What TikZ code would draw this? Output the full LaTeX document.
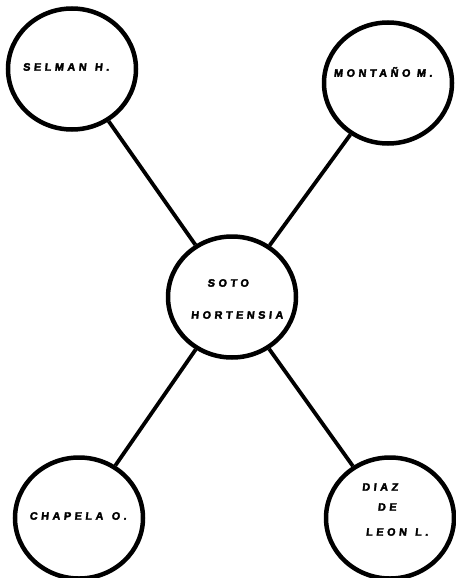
\documentclass[tikz,border=0pt]{standalone}
\usepackage{fontspec}
\newfontfamily\labfont{Liberation Sans Bold}[LetterSpace=33,FakeBold=3,FakeSlant=0.1]
\usetikzlibrary{shapes.geometric}
\begin{document}
\begin{tikzpicture}[x=1pt,y=-1pt,
  person/.style={ellipse,draw=black,line width=4.5pt,minimum width=128pt,minimum height=121pt,inner sep=0pt},
  lab/.style={font=\labfont\fontsize{10.8}{12}\selectfont,text=black,inner sep=0pt,anchor=center},
  link/.style={line width=3.8pt,draw=black}]
\fill[white] (0,0) rectangle (455,578);
\useasboundingbox (0,0) rectangle (455,578);
\node[person] (tl) at (72,69) {};
\node[person] (tr) at (388,83) {};
\node[person] (c) at (232,297) {};
\node[person] (bl) at (79,518) {};
\node[person] (br) at (390,518) {};
\node[lab] (tlt) at (66,67) {SELMAN\, H.};
\node[lab] (trt) at (383,72) {MONTAÑO M.};
\node[lab] (ct1) at (228,283) {SOTO};
\node[lab] (ct2) at (237,315) {HORTENSIA};
\node[lab] (blt) at (78,516) {CHAPELA\, O.};
\node[lab] (brt1) at (380,487) {DIAZ};
\node[lab] (brt2) at (387,507) {DE};
\node[lab] (brt3) at (397,532) {LEON\, L.};
\draw[link] (tl) -- (c);
\draw[link] (tr) -- (c);
\draw[link] (bl) -- (c);
\draw[link] (br) -- (c);
\end{tikzpicture}
\end{document}
